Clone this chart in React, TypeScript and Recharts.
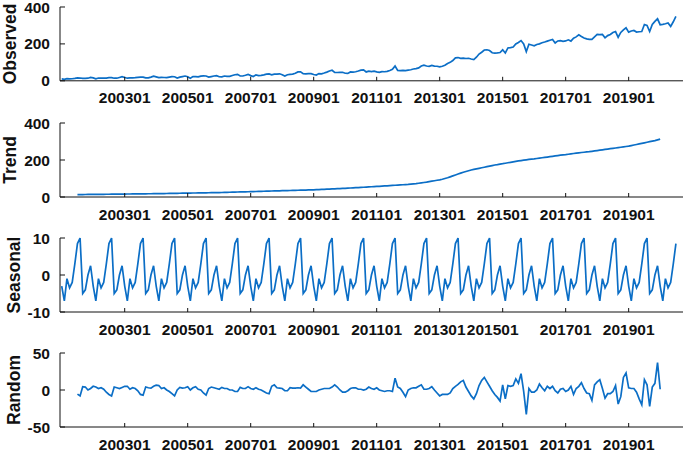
import React from 'react';
import { LineChart, Line, XAxis, YAxis, Label } from 'recharts';

// ---------- data ----------
const observed: number[] = [
  10, 8, 12, 10, 11, 13, 16, 15, 13, 13, 14, 18,
  16, 11, 15, 14, 14, 15, 17, 17, 14, 14, 18, 22,
  18, 14, 16, 16, 17, 19, 20, 20, 16, 16, 20, 25,
  21, 17, 19, 18, 17, 20, 23, 22, 15, 20, 23, 26,
  22, 14, 23, 23, 21, 25, 27, 26, 20, 23, 26, 28,
  22, 21, 26, 24, 24, 29, 33, 35, 26, 26, 30, 35,
  28, 23, 32, 28, 29, 32, 36, 37, 32, 36, 36, 38,
  33, 26, 33, 35, 36, 41, 48, 49, 39, 38, 39, 39,
  34, 31, 39, 38, 42, 47, 53, 57, 46, 45, 46, 46,
  41, 40, 48, 47, 49, 53, 58, 59, 48, 52, 50, 52,
  48, 46, 50, 49, 51, 56, 62, 80, 56, 55, 56, 55,
  58, 60, 64, 66, 70, 80, 85, 80, 78, 83, 80, 79,
  76, 79, 84, 94, 100, 110, 124, 126, 122, 123, 121, 122,
  118, 115, 128, 145, 155, 167, 168, 164, 152, 150, 151, 153,
  168, 151, 178, 180, 183, 200, 208, 218, 200, 158, 198, 194,
  190, 197, 200, 206, 210, 215, 220, 224, 205, 216, 218, 214,
  216, 222, 215, 231, 238, 249, 240, 232, 227, 225, 224, 238,
  251, 250, 251, 233, 245, 251, 262, 267, 236, 262, 276, 287,
  264, 270, 273, 264, 266, 267, 305, 300, 267, 305, 322, 336,
  304, 306, 309, 313, 295, 320, 349,
];

const trendStart = '200107';
const trend: number[] = [
  13.0, 13.1, 13.3, 13.5, 13.7, 13.9,
  14.0, 14.2, 14.4, 14.5, 14.7, 14.9, 15.0, 15.2, 15.4, 15.5, 15.7, 15.9,
  16.0, 16.2, 16.3, 16.5, 16.7, 16.8, 17.0, 17.2, 17.3, 17.5, 17.7, 17.8,
  18.0, 18.2, 18.5, 18.7, 19.0, 19.2, 19.5, 19.7, 20.0, 20.2, 20.5, 20.7,
  21.0, 21.2, 21.5, 21.7, 22.0, 22.2, 22.5, 22.7, 23.0, 23.2, 23.5, 23.7,
  24.0, 24.4, 24.8, 25.2, 25.6, 26.0, 26.5, 26.9, 27.3, 27.7, 28.1, 28.5,
  29.0, 29.4, 29.8, 30.2, 30.6, 31.0, 31.5, 31.9, 32.3, 32.7, 33.1, 33.5,
  34.0, 34.4, 34.8, 35.2, 35.6, 36.0, 36.5, 36.9, 37.3, 37.7, 38.1, 38.5,
  39.0, 39.6, 40.3, 41.0, 41.6, 42.3, 43.0, 43.6, 44.3, 45.0, 45.6, 46.3,
  47.0, 47.8, 48.6, 49.5, 50.3, 51.2, 52.0, 52.8, 53.6, 54.5, 55.3, 56.2,
  57.0, 57.9, 58.8, 59.7, 60.6, 61.5, 62.5, 63.4, 64.3, 65.2, 66.1, 67.0,
  68.0, 69.5, 71.0, 72.5, 74.5, 76.5, 78.5, 80.5, 83.0, 85.5, 88.0, 90.5,
  93, 96, 100, 104, 109, 114, 119, 124, 129, 134, 138, 142,
  146, 149, 152, 155, 158, 161, 164, 167, 170, 173, 175, 178,
  180, 182.5, 185, 187.5, 190, 192.5, 195, 197, 199, 201, 203, 204.5,
  206, 208, 210, 212, 214, 216, 218, 220, 222, 224, 226, 227.5,
  229, 231, 233, 235, 237, 239, 240.5, 242, 243.5, 245, 247, 249,
  251, 253, 255, 257, 259, 261, 263, 265, 267, 269, 271, 273,
  275, 278, 281, 284, 287, 290, 293, 296, 299, 302, 305, 309,
  313,
];

const seasonal: number[] = [
  -3, -7, -1, -3.5, -2, 3, 8.5, 10, -5, -4, 0, 2.5,
  -3, -7, -1, -3.5, -2, 3, 8.5, 10, -5, -4, 0, 2.5,
  -3, -7, -1, -3.5, -2, 3, 8.5, 10, -5, -4, 0, 2.5,
  -3, -7, -1, -3.5, -2, 3, 8.5, 10, -5, -4, 0, 2.5,
  -3, -7, -1, -3.5, -2, 3, 8.5, 10, -5, -4, 0, 2.5,
  -3, -7, -1, -3.5, -2, 3, 8.5, 10, -5, -4, 0, 2.5,
  -3, -7, -1, -3.5, -2, 3, 8.5, 10, -5, -4, 0, 2.5,
  -3, -7, -1, -3.5, -2, 3, 8.5, 10, -5, -4, 0, 2.5,
  -3, -7, -1, -3.5, -2, 3, 8.5, 10, -5, -4, 0, 2.5,
  -3, -7, -1, -3.5, -2, 3, 8.5, 10, -5, -4, 0, 2.5,
  -3, -7, -1, -3.5, -2, 3, 8.5, 10, -5, -4, 0, 2.5,
  -3, -7, -1, -3.5, -2, 3, 8.5, 10, -5, -4, 0, 2.5,
  -3, -7, -1, -3.5, -2, 3, 8.5, 10, -5, -4, 0, 2.5,
  -3, -7, -1, -3.5, -2, 3, 8.5, 10, -5, -4, 0, 2.5,
  -3, -7, -1, -3.5, -2, 3, 8.5, 10, -5, -4, 0, 2.5,
  -3, -7, -1, -3.5, -2, 3, 8.5, 10, -5, -4, 0, 2.5,
  -3, -7, -1, -3.5, -2, 3, 8.5, 10, -5, -4, 0, 2.5,
  -3, -7, -1, -3.5, -2, 3, 8.5, 10, -5, -4, 0, 2.5,
  -3, -7, -1, -3.5, -2, 3, 8.5, 10, -5, -4, 0, 2.5,
  -3, -7, -1, -3.5, -2, 3, 8.5,
];

const randomStart = '200107';
const random: number[] = [
  -5.5, -8, 4.5, 4, 0, 2,
  5, 4, 2, 3, 1, -3, -6, -8, 4, 3, 2, 3.5,
  5, 5, 1, 3, 2, -1, -6, -7, 4, 3, 2.5, 5,
  6.5, 6, 2, 3, 0, -2, -5, -8, 0, 3.5, 2.5, 3,
  4.5, 0, 3, 4.5, 1, 0, -4, -7, 2, 4, 3, 2,
  1, 3.5, 2, 2, 0, 0, -2, -2, 3.5, 2, 2, 4.5,
  2, 1, 3, 1, 0, -2, -4, -5, 5, 7, 3, 2.5,
  2, -1, -1, 3, 2.5, 2.5, 3, 2.5, 7, 4, 1, -2,
  -2, -2, 0, 1, 2, 2, 2, 4, 7, 4, 0, -3,
  -3, -1, 2, 3, 3, 1, 1, 0, 1, 4, 2, 1,
  3, 0, -1, -2, -1, -1, -2, 16, 4, 2, -3, -9,
  0, 2, 3, 3, 5, 7, 1, 1, 2, 4.5, 0, -4,
  -8, -6, -6, -6, -4, 2, 5, 7.5, 11, 13, 4, -2,
  -8, -12, -5, 6, 13, 17, 11, 5, -1, -6, -10, -15,
  7, -12, 6, 5, 6, 15, 9, 22, -2, -33, 2, -3,
  -3, 0, 8, 3, -1, 5, 2, 5, -1, -4, 1, 2,
  -2, 0, 5, -6, 2, 5, 10, 2, -4, -5, -14, 7,
  11, 14, 2, -11, -5, -5, -2, 6, -19, -9, 17, 23,
  3, 2, 2, -3, -12, -20, 14, 7, -22, 4, 9, 37, 1,
];

const firstYear = 2001;
const months: string[] = observed.map((_, i) => {
  const y = firstYear + Math.floor(i / 12);
  const m = (i % 12) + 1;
  return `${y}${m < 10 ? '0' + m : m}`;
});

const xTickLabels = ['200301', '200501', '200701', '200901', '201101', '201301', '201501', '201701', '201901'];

const observedTicks = [0, 200, 400];
const trendTicks = [0, 200, 400];
const seasonalTicks = [-10, 0, 10];
const randomTicks = [-50, 0, 50];

// ---------- table ----------
const tOff = months.indexOf(trendStart);
const rOff = months.indexOf(randomStart);
const rows = months.map((m, i) => ({
  i,
  observed: observed[i],
  trend: i - tOff >= 0 && i - tOff < trend.length ? trend[i - tOff] : null,
  seasonal: seasonal[i],
  random: i - rOff >= 0 && i - rOff < random.length ? random[i - rOff] : null,
}));
const xTicks = xTickLabels.map((l) => months.indexOf(l));

// ---------- style ----------
const FONT = '"Liberation Sans", Arial, Helvetica, sans-serif';
const LINE = '#0b6ec6';
const INK = '#111';

type Panel = {
  key: string;
  title: string;
  domain: [number, number];
  ticks: number[];
  plotTop: number;
  plotH: number;
  titleX: number;
  labelShift?: Record<string, number>;
};

const panels: Panel[] = [
  { key: 'observed', title: 'Observed', domain: [0, 400], ticks: observedTicks, plotTop: 6.7, plotH: 73.8, titleX: 15.5 },
  { key: 'trend', title: 'Trend', domain: [0, 400], ticks: trendTicks, plotTop: 122.5, plotH: 74, titleX: 15.5 },
  { key: 'seasonal', title: 'Seasonal', domain: [-10, 10], ticks: seasonalTicks, plotTop: 238.3, plotH: 74, titleX: 19.5, labelShift: { '201501': -10 } },
  { key: 'random', title: 'Random', domain: [-50, 50], ticks: randomTicks, plotTop: 353.3, plotH: 74, titleX: 19.5 },
];

const TOP_PAD = 10;
const BOTTOM_H = 32;

function makeXTick(shift?: Record<string, number>) {
  return (props: any) => {
    const { x, y, payload } = props;
    const label = months[payload.value] ?? '';
    const dx = shift && shift[label] ? shift[label] : 0;
    return (
      <g>
        <line x1={x} x2={x} y1={y} y2={y - 4} stroke={INK} strokeWidth={1} />
        <text x={x + dx} y={y + 22.5} textAnchor="middle" fontFamily={FONT} fontWeight="bold" fontSize={15.5} fill={INK}>
          {label}
        </text>
      </g>
    );
  };
}

const YTick = (props: any) => {
  const { x, y, payload } = props;
  return (
    <g>
      <line x1={x} x2={x + 5} y1={y} y2={y} stroke={INK} strokeWidth={1} />
      <text x={x - 10} y={y} dy="0.36em" textAnchor="end" fontFamily={FONT} fontWeight="bold" fontSize={15.5} fill={INK}>
        {payload.value}
      </text>
    </g>
  );
};

function PanelChart({ p }: { p: Panel }) {
  const h = TOP_PAD + p.plotH + BOTTOM_H;
  const cy = TOP_PAD + p.plotH / 2;
  return (
    <div style={{ position: 'absolute', left: 0, top: p.plotTop - TOP_PAD, width: 685, height: h }}>
      <LineChart width={685} height={h} data={rows} margin={{ top: TOP_PAD, right: 2, bottom: 0, left: 0 }}>
        <XAxis
          dataKey="i"
          type="number"
          domain={[-0.65, 236.7]}
          allowDataOverflow
          ticks={xTicks}
          interval={0}
          height={BOTTOM_H}
          tickSize={0}
          tickMargin={0}
          tickLine={false}
          axisLine={{ stroke: INK, strokeWidth: 1 }}
          tick={makeXTick(p.labelShift)}
        />
        <YAxis
          type="number"
          domain={p.domain}
          ticks={p.ticks}
          interval={0}
          width={60}
          tickSize={0}
          tickMargin={0}
          tickLine={false}
          axisLine={{ stroke: INK, strokeWidth: 1 }}
          tick={YTick}
        >
          <Label
            content={() => (
              <text
                x={p.titleX}
                y={cy}
                transform={`rotate(-90, ${p.titleX}, ${cy})`}
                textAnchor="middle"
                fontFamily={FONT}
                fontWeight="bold"
                fontSize={17.5}
                fill={INK}
              >
                {p.title}
              </text>
            )}
          />
        </YAxis>
        <Line
          type="linear"
          dataKey={p.key}
          stroke={LINE}
          strokeWidth={1.7}
          dot={false}
          activeDot={false}
          isAnimationActive={false}
          connectNulls={false}
        />
      </LineChart>
    </div>
  );
}

export default function App() {
  return (
    <div style={{ position: 'absolute', left: 0, top: 0, width: 685, height: 452, background: '#fff', overflow: 'hidden' }}>
      {panels.map((p) => (
        <PanelChart key={p.key} p={p} />
      ))}
    </div>
  );
}
